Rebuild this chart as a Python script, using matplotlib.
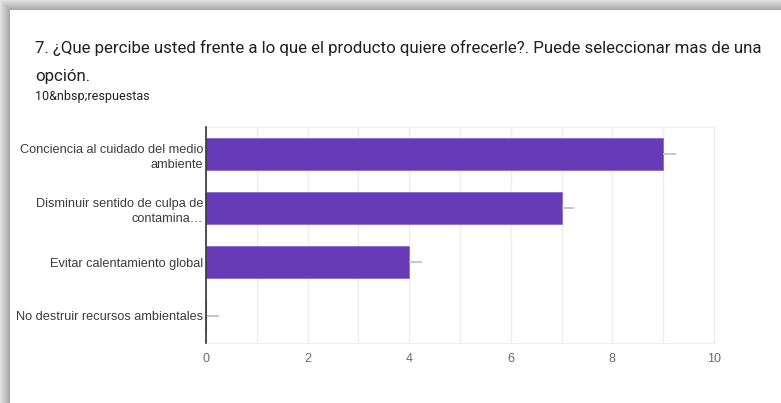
import matplotlib
matplotlib.use('Agg')
import matplotlib.pyplot as plt
import numpy as np

# datos de la pregunta 7
opciones = ['Conciencia al cuidado del medio\nambiente',
            'Disminuir sentido de culpa de\ncontamina…',
            'Evitar calentamiento global',
            'No destruir recursos ambientales']
respuestas = [9, 7, 4, 0]
ticks_x = [0, 2, 4, 6, 8, 10]

titulo = '7. ¿Que percibe usted frente a lo que el producto quiere ofrecerle?. Puede seleccionar mas de una'
titulo2 = 'opción.'
subtitulo = '10&nbsp;respuestas'

W, H = 781, 403
fig = plt.figure(figsize=(W / 100, H / 100), dpi=100)

# fondo con sombra de la tarjeta (arriba e izquierda)
fondo = np.ones((H, W))
borde = 10
for i in range(borde):
    g = 0.88 - 0.22 * (i / (borde - 1))
    fondo[i, i:] = np.minimum(fondo[i, i:], g)
    fondo[i:, i] = np.minimum(fondo[i:, i], g)
bg = fig.add_axes([0, 0, 1, 1])
bg.imshow(fondo, cmap='gray', vmin=0, vmax=1, aspect='auto', interpolation='bilinear')
bg.axis('off')

fig.text(35 / W, 1 - 53 / H, titulo, fontsize=12.2, family='Roboto', color='#202124',
         va='baseline', ha='left')
fig.text(35 / W, 1 - 81 / H, titulo2, fontsize=12.2, family='Roboto', color='#202124',
         va='baseline', ha='left')
fig.text(35 / W, 1 - 100 / H, subtitulo, fontsize=9, family='Roboto', color='#202124',
         va='baseline', ha='left')

ax = fig.add_axes([206 / W, 1 - 343 / H, (714 - 206) / W, (343 - 127) / H])
y = np.arange(len(opciones))
ax.barh(y, respuestas, height=0.61, color='#673AB7', edgecolor='#8a6bd0', linewidth=0.6, zorder=3)
# pequeña marca gris a la derecha de cada barra
ax.hlines(y, respuestas, np.array(respuestas) + 0.25, color='#bdbdbd', linewidth=1.2, zorder=3)

ax.set_xlim(0, 10)
ax.set_ylim(3.5, -0.5)
ax.set_xticks(ticks_x)
ax.set_xticks(range(0, 11), minor=True)
ax.set_xticklabels([str(t) for t in ticks_x], family='Liberation Sans', fontsize=9, color='#6b6b6b')
ax.set_yticks(y)
ax.set_yticklabels(opciones, family='Liberation Sans', fontsize=9.2, color='#3c3c3c',
                   linespacing=1.4, multialignment='right')
ax.tick_params(axis='both', which='both', length=0)
ax.tick_params(axis='x', pad=7)
ax.tick_params(axis='y', pad=2)
ax.grid(axis='x', which='both', color='#eeeeee', linewidth=1, zorder=0)

for s in ['top', 'right', 'bottom']:
    ax.spines[s].set_color('#eeeeee')
ax.spines['left'].set_color('#333333')
ax.spines['left'].set_linewidth(1.2)
ax.spines['left'].set_zorder(4)

fig.savefig('out.png', dpi=100)
